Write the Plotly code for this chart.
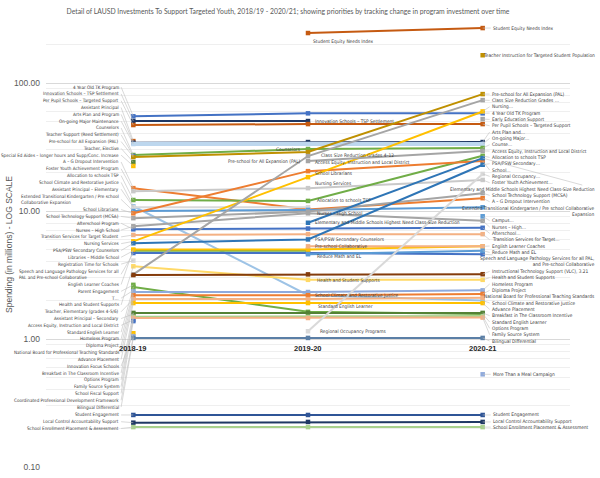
import numpy as np
import plotly.graph_objects as go

years = ["2018-19", "2019-20", "2020-21"]

programs = [
    "4 Year Old TK Program",
    "Innovation Schools – TSP Settlement",
    "Per Pupil Schools – Targeted Support",
    "Assistant Principal",
    "Arts Plan and Program",
    "On-going Major Maintenance",
    "Counselors",
    "Teacher Support (Reed Settlement)",
    "Pre-school for All Expansion (PAL)",
    "Teacher, Elective",
    "Special Ed Aides – longer hours and Supp/Conc. Increase",
    "A – G Dropout Intervention",
    "Foster Youth Achievement Program",
    "Allocation to schools TSP",
    "School Climate and Restorative Justice",
    "Assistant Principal – Elementary",
    "Extended Transitional Kindergarten / Pre school Collaborative Expansion",
    "School Librarians",
    "School Technology Support (MCSA)",
    "Afterschool Program",
    "Nurses – High School",
    "Transition Services for Target Student",
    "Nursing Services",
    "PSA/PSW Secondary Counselors",
    "Libraries – Middle School",
    "Registration Time for Schools",
    "Speech and Language Pathology Services for all PAL and Pre-school Collaborative",
    "English Learner Coaches",
    "Parent Engagement",
    "T…",
    "Health and Student Supports",
    "Teacher, Elementary (grades 4-5/6)",
    "Assistant Principal – Secondary",
    "Access Equity, Instruction and Local District",
    "Standard English Learner",
    "Homeless Program",
    "Diploma Project",
    "National Board for Professional Teaching Standards",
    "Advance Placement",
    "Innovation Focus Schools",
    "Breakfast in The Classroom Incentive",
    "Options Program",
    "Family Source System",
    "School Fiscal Support",
    "Coordinated Professional Development Framework",
    "Bilingual Differential",
    "Student Engagement",
    "Local Control Accountability Support",
    "School Enrollment Placement & Assessment",
    "Class Size Reduction Grades 4–12",
    "Instructional Technology Support (VLC)",
    "Access Equity, Instruction and Local District",
    "Student Equity Needs Index",
    "Teacher Instruction for Targeted Student Population",
    "Elementary and Middle Schools Highest Need Class-Size Reduction",
    "Pre-school Collaborative",
    "Reduce Math and EL",
    "Regional Occupancy Programs",
    "Early Education Support",
    "Campus…",
    "More Than a Meal Campaign",
]

# spending in millions
fy2018_19 = [55, 50.5, 47, 35.2, 34.2, 33.4, 27.4, 26.9, 26.4, 24.1,
             22.5, 15.1, 14.3, 12.2, 10.9, 10.7, 10.0, 9.6, 8.8, 7.2,
             7.6, 6.5, 5.8, 5.6, 4.9, 4.1, 4.7, 5.0, 2.65, 2.4,
             3.7, 2.05, 1.57, 1.41, 2.55, 2.33, 2.2, 2.05, 1.91, 1.11,
             1.6, 1.49, 1.46, 1.38, 1.05, 1.02, 0.255, 0.222, 0.205, 3.2,
             3.16, None, None, None, None, None, None, None, None, None,
             None]
fy2019_20 = [58, 50.5, 47.8, None, 34.6, 33.4, 30.5, None, 28.9, None,
             None, 10.3, 15.1, 12.0, 2.2, 10.7, 10.2, 20.5, 9.9, 7.3,
             9.6, 6.6, 18.4, 6.0, 4.9, None, 4.7, 5.0, None, None,
             2.9, None, None, None, 1.63, 2.33, 2.2, 2.05, 1.91, None,
             1.6, 1.49, 1.46, None, None, 1.02, 0.255, 0.225, 0.205, 26.9,
             3.2, 24.6, 246, None, 8.1, 5.3, 4.6, 1.15, None, None,
             None]
fy2020_21 = [58, None, 47.8, None, 34.6, 33.4, 31.1, None, 82, None,
             None, 12.6, 17.5, 27.0, 2.0, None, 10.7, 24.6, 13.8, 7.4,
             8.4, 6.6, 60, 23, None, None, 4.6, 5.3, None, None,
             2.9, None, None, None, 1.57, 2.4, 2.25, 2.1, 1.91, None,
             1.6, 1.51, 1.47, None, None, 1.02, 0.255, 0.225, 0.205, 73.6,
             3.21, 29.5, 269, 165, 25.9, 5.3, 4.9, 19.5, 52.3, 9.1,
             0.53]

line_colors = ["#4472C4", "#1F3864", "#C55A11", "#C55A11", "#1F3864", "#BDD7EE", "#70AD47", "#4472C4", "#BF9000", "#548235",
               "#FFC000", "#ED7D31", "#C9C9C9", "#70AD47", "#9DC3E6", "#D9D9D9", "#5B9BD5", "#ED7D31", "#A5A5A5", "#4472C4",
               "#A5A5A5", "#F4B183", "#FFC000", "#2E75B6", "#70AD47", "#D9D9D9", "#4472C4", "#FFC000", "#70AD47", "#8FAADC",
               "#FFD966", "#F4B183", "#70AD47", "#4472C4", "#70AD47", "#8FAADC", "#ED7D31", "#F4B183", "#FFC000", "#FFC000",
               "#548235", "#A9D18E", "#F4B183", "#4472C4", "#8FAADC", "#5B7FA6", "#2F5597", "#1F3864", "#A9D18E", "#A5A5A5",
               "#843C0C", "#A5A5A5", "#C55A11", "#BF9000", "#2E75B6", "#F4B183", "#5B9BD5", "#D9D9D9", "#A5A5A5", "#5B9BD5",
               "#8FAADC"]

# labels stacked down the left of 2018-19
left_labels = [
    "4 Year Old TK Program", "Innovation Schools – TSP Settlement", "Per Pupil Schools – Targeted Support",
    "Assistant Principal", "Arts Plan and Program", "On-going Major Maintenance", "Counselors",
    "Teacher Support (Reed Settlement)", "Pre-school for All Expansion (PAL)", "Teacher, Elective",
    "Special Ed Aides – longer hours and Supp/Conc. Increase", "A – G Dropout Intervention",
    "Foster Youth Achievement Program", "Allocation to schools TSP", "School Climate and Restorative Justice",
    "Assistant Principal – Elementary",
    "Extended Transitional Kindergarten / Pre school Collaborative Expansion",
    "School Librarians", "School Technology Support (MCSA)", "Afterschool Program", "Nurses – High School",
    "Transition Services for Target Student", "Nursing Services", "PSA/PSW Secondary Counselors",
    "Libraries – Middle School", "Registration Time for Schools",
    "Speech and Language Pathology Services for all PAL and Pre-school Collaborative",
    "English Learner Coaches", "Parent Engagement", "T…", "Health and Student Supports",
    "Teacher, Elementary (grades 4-5/6)", "Assistant Principal – Secondary",
    "Access Equity, Instruction and Local District", "Standard English Learner", "Homeless Program",
    "Diploma Project", "National Board for Professional Teaching Standards", "Advance Placement",
    "Innovation Focus Schools", "Breakfast in The Classroom Incentive", "Options Program",
    "Family Source System", "School Fiscal Support", "Coordinated Professional Development Framework",
    "Bilingual Differential",
]
left_text = {
    "Extended Transitional Kindergarten / Pre school Collaborative Expansion":
        "Extended Transitional Kindergarten / Pre school<br>Collaborative Expansion",
    "Speech and Language Pathology Services for all PAL and Pre-school Collaborative":
        "Speech and Language Pathology Services for all<br>PAL and Pre-school Collaborative",
}
left_bottom_labels = ["Student Engagement", "Local Control Accountability Support",
                      "School Enrollment Placement & Assessment"]

# labels next to 2019-20 points: (program, side, xshift, yshift)
mid_labels = [
    ("Innovation Schools – TSP Settlement", "right", 5, 0),
    ("Counselors", "left", -5, 0),
    ("Class Size Reduction Grades 4–12", "right", 11, 1),
    ("Pre-school for All Expansion (PAL)", "left", -5, -9),
    ("Access Equity, Instruction and Local District", "right", 5, -1),
    ("School Librarians", "right", 5, -2),
    ("Nursing Services", "right", 5, -6),
    ("Allocation to schools TSP", "right", 7, 0),
    ("Nurses – High School", "right", 7, 0),
    ("Elementary and Middle Schools Highest Need Class-Size Reduction", "right", 5, 0),
    ("PSA/PSW Secondary Counselors", "right", 5, 0),
    ("Pre-school Collaborative", "right", 5, 0),
    ("Reduce Math and EL", "right", 7, -2),
    ("Health and Student Supports", "right", 7, -1),
    ("School Climate and Restorative Justice", "right", 5, 0),
    ("Standard English Learner", "right", 8, 5),
    ("Regional Occupancy Programs", "right", 10, 0),
    ("Student Equity Needs Index", "right", 3, -8),
]

# labels stacked to the right of 2020-21: (program, shown text)
right_labels = [
    ("Pre-school for All Expansion (PAL)", "Pre-school for All Expansion (PAL)"),
    ("Class Size Reduction Grades 4–12", "Class Size Reduction Grades …"),
    ("Nursing Services", "Nursing…"),
    ("4 Year Old TK Program", "4 Year Old TK Program"),
    ("Early Education Support", "Early Education Support"),
    ("Per Pupil Schools – Targeted Support", "Per Pupil Schools – Targeted Support"),
    ("Arts Plan and Program", "Arts Plan and…"),
    ("On-going Major Maintenance", "On-going Major…"),
    ("Counselors", "Counse…"),
    ("Access Equity, Instruction and Local District", "Access Equity, Instruction and Local District"),
    ("Allocation to schools TSP", "Allocation to schools TSP"),
    ("PSA/PSW Secondary Counselors", "PSA/PSW Secondary…"),
    ("School Librarians", "School…"),
    ("Regional Occupancy Programs", "Regional Occupancy…"),
    ("Foster Youth Achievement Program", "Foster Youth Achievement…"),
    ("Elementary and Middle Schools Highest Need Class-Size Reduction",
     "Elementary and Middle Schools Highest Need Class-Size Reduction"),
    ("School Technology Support (MCSA)", "School Technology Support (MCSA)"),
    ("A – G Dropout Intervention", "A – G Dropout Intervention"),
    ("Extended Transitional Kindergarten / Pre school Collaborative Expansion",
     "Extended Transitional Kindergarten / Pre school Collaborative<br>Expansion"),
    ("Campus…", "Campus…"),
    ("Nurses – High School", "Nurses – High…"),
    ("Afterschool Program", "Afterschool…"),
    ("Transition Services for Target Student", "Transition Services for Target…"),
    ("English Learner Coaches", "English Learner Coaches"),
    ("Reduce Math and EL", "Reduce Math and EL"),
    ("Speech and Language Pathology Services for all PAL and Pre-school Collaborative",
     "Speech and Language Pathology Services for all PAL,<br>and Pre-school Collaborative"),
    ("Instructional Technology Support (VLC)", "Instructional Technology Support (VLC), 3.21"),
    ("Health and Student Supports", "Health and Student Supports"),
    ("Homeless Program", "Homeless Program"),
    ("Diploma Project", "Diploma Project"),
    ("National Board for Professional Teaching Standards", "National Board for Professional Teaching Standards"),
    ("School Climate and Restorative Justice", "School Climate and Restorative Justice"),
    ("Advance Placement", "Advance Placement"),
    ("Breakfast in The Classroom Incentive", "Breakfast in The Classroom Incentive"),
    ("Standard English Learner", "Standard English Learner"),
    ("Options Program", "Options Program"),
    ("Family Source System", "Family Source System"),
    ("Bilingual Differential", "Bilingual Differential"),
]
# long right labels pushed back against the right edge
right_flush = ["Elementary and Middle Schools Highest Need Class-Size Reduction",
               "Extended Transitional Kindergarten / Pre school Collaborative Expansion",
               "Speech and Language Pathology Services for all PAL and Pre-school Collaborative",
               "National Board for Professional Teaching Standards",
               "Teacher Instruction for Targeted Student Population"]
right_point_labels = ["Student Equity Needs Index", "Teacher Instruction for Targeted Student Population",
                      "More Than a Meal Campaign", "Student Engagement",
                      "Local Control Accountability Support", "School Enrollment Placement & Assessment"]

columns = [fy2018_19, fy2019_20, fy2020_21]

NARROW = "Liberation Sans Narrow, DejaVu Sans Condensed, sans-serif"
LEFT_FONT = dict(family=NARROW, size=4.6, color="#3A3A3A")
LABEL_FONT = dict(family=NARROW, size=4.8, color="#3A3A3A")
LEADER = "#BFBFBF"
EDGE = 2.655  # right edge of the window, in category units
LEFT_COL = -0.07


def find_value(name, col):
    for i, p in enumerate(programs):
        if p == name and columns[col][i] is not None:
            return columns[col][i]
    return None


fig = go.Figure()

for i, name in enumerate(programs):
    vals = [fy2018_19[i], fy2019_20[i], fy2020_21[i]]
    width = 4 if line_colors[i] == "#BDD7EE" else 2
    fig.add_trace(go.Scatter(
        x=years, y=vals, name=name,
        mode="lines+markers",
        connectgaps=False,
        line=dict(color=line_colors[i], width=width),
        marker=dict(color=line_colors[i], size=4.5, symbol="square"),
        hoverinfo="name+y",
    ))

annotations = []

# left column
n_lines = sum(left_text.get(n, n).count("<br>") + 1 for n in left_labels)
slots = np.linspace(np.log10(93), np.log10(0.294), n_lines)
k = 0
for name in left_labels:
    text = left_text.get(name, name)
    nl = text.count("<br>") + 1
    ypos = slots[k:k + nl].mean()
    k += nl
    v = find_value(name, 0)
    annotations.append(dict(
        x=0, y=np.log10(v), xref="x", yref="y",
        ax=LEFT_COL, ay=ypos, axref="x", ayref="y",
        text=text, xanchor="right", align="left",
        showarrow=True, arrowhead=0, arrowwidth=0.6, arrowcolor=LEADER,
        font=LEFT_FONT,
    ))

bottom_slots = np.linspace(np.log10(0.255), np.log10(0.2), len(left_bottom_labels))
for name, ypos in zip(left_bottom_labels, bottom_slots):
    v = find_value(name, 0)
    annotations.append(dict(
        x=0, y=np.log10(v), xref="x", yref="y",
        ax=LEFT_COL, ay=ypos, axref="x", ayref="y",
        text=name, xanchor="right",
        showarrow=True, arrowhead=0, arrowwidth=0.6, arrowcolor=LEADER,
        font=LEFT_FONT,
    ))

# middle labels
for name, side, xs, ys in mid_labels:
    v = find_value(name, 1)
    annotations.append(dict(
        x=1, y=np.log10(v), xref="x", yref="y",
        text=name, showarrow=False,
        xanchor="left" if side == "right" else "right",
        xshift=xs, yshift=ys,
        font=LABEL_FONT,
    ))

# right column
n_lines = sum(t.count("<br>") + 1 for _, t in right_labels)
slots = np.linspace(np.log10(82), np.log10(0.965), n_lines)
k = 0
for name, text in right_labels:
    nl = text.count("<br>") + 1
    ypos = slots[k:k + nl].mean()
    k += nl
    v = find_value(name, 2)
    flush = name in right_flush
    annotations.append(dict(
        x=2, y=np.log10(v), xref="x", yref="y",
        ax=EDGE if flush else 2.04, ay=ypos, axref="x", ayref="y",
        text=text, xanchor="right" if flush else "left", align="right",
        showarrow=True, arrowhead=0, arrowwidth=0.6, arrowcolor=LEADER,
        font=LABEL_FONT,
    ))

for name in right_point_labels:
    v = find_value(name, 2)
    if name in right_flush:
        annotations.append(dict(
            x=2, y=np.log10(v), xref="x", yref="y",
            ax=EDGE, ay=np.log10(v), axref="x", ayref="y",
            text=name, xanchor="right",
            showarrow=True, arrowhead=0, arrowwidth=0.6, arrowcolor=LEADER,
            font=LABEL_FONT,
        ))
    else:
        annotations.append(dict(
            x=2, y=np.log10(v), xref="x", yref="y",
            ax=8, ay=0, text=name, xanchor="left",
            showarrow=True, arrowhead=0, arrowwidth=0.6, arrowcolor=LEADER,
            font=LABEL_FONT,
        ))

# year labels where the axis crosses 1.00
for yr in years:
    annotations.append(dict(
        x=yr, y=0, xref="x", yref="y", text="<b>%s</b>" % yr,
        showarrow=False, yshift=-9,
        font=dict(family="Liberation Sans, Arial", size=7.5, color="#262626"),
    ))

minor_vals = [m * d for d in (0.1, 1, 10, 100) for m in range(2, 10) if m * d <= 300]

fig.update_layout(
    width=600, height=478,
    margin=dict(l=46, r=30, t=22, b=11),
    plot_bgcolor="white", paper_bgcolor="white",
    showlegend=False,
    title=dict(
        text="Detail of LAUSD Investments To Support Targeted Youth, 2018/19 - 2020/21; "
             "showing priorities by tracking change in program investment over time",
        x=0.48, y=0.975, xanchor="center", yanchor="middle",
        font=dict(family="Lato", size=6.8, color="#595959"),
    ),
    xaxis=dict(type="category", range=[-0.5, 2.5], showgrid=False, showticklabels=False,
               zeroline=False, showline=False),
    yaxis=dict(
        type="log", range=[-1, np.log10(300)],
        tickvals=[0.1, 1, 10, 100], ticktext=["0.10", "1.00", "10.00", "100.00"],
        tickfont=dict(family="Liberation Sans, Arial", size=8.5, color="#595959"),
        ticklabelstandoff=5,
        gridcolor="#D9D9D9", gridwidth=0.7, zeroline=False, showline=False,
        minor=dict(tickvals=minor_vals, showgrid=True, gridcolor="#EFEFEF", gridwidth=0.7),
        title=dict(text="Spending (in millions) - LOG SCALE", standoff=0,
                   font=dict(family="Liberation Sans, Arial", size=8.5, color="#595959")),
        automargin=False,
    ),
    annotations=annotations,
)

# page margin off so the 600x478 figure sits flush in the window
fig.write_html("out.html", config={"displayModeBar": False},
               post_script="document.body.style.margin='0px';")
